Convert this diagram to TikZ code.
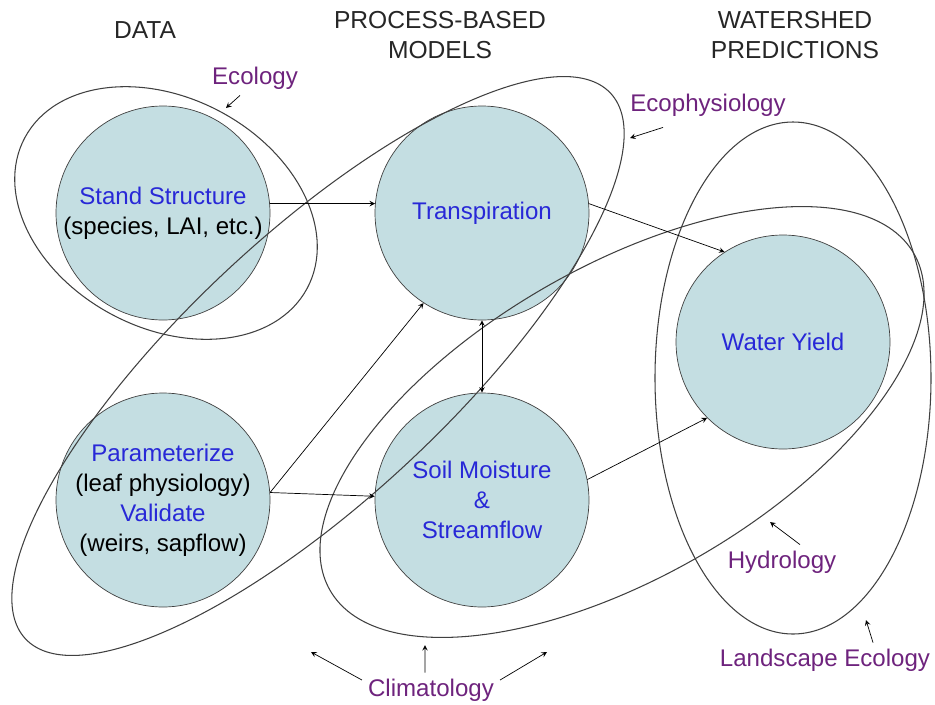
\documentclass[tikz,border=0pt]{standalone}
\usepackage{fontspec}
\setmainfont{Liberation Sans}
\usetikzlibrary{shapes.geometric, arrows}
\definecolor{cellfill}{RGB}{196,222,226}
\definecolor{txtblue}{RGB}{40,40,215}
\definecolor{fieldpurple}{RGB}{110,35,125}
\tikzstyle{circ} = [circle, minimum size=4.28cm, inner sep=0pt, align=center, draw=black!75, fill=cellfill, font=\fontsize{13.7}{17}\selectfont]
\tikzstyle{head} = [rectangle, align=center, text=black!85, font=\fontsize{14}{17.5}\selectfont]
\tikzstyle{field} = [rectangle, text=fieldpurple, font=\fontsize{13.7}{17}\selectfont]
\tikzstyle{ring} = [draw=black!75, line width=0.6pt]
\tikzstyle{arrow} = [->,>=stealth]

\begin{document}
\begin{tikzpicture}[node distance=6.38cm]
    \useasboundingbox (0,0) rectangle (18.7,-14.08);
    % circles
    \node (ss) [circ] at (3.26,-4.26) {\textcolor{txtblue}{Stand Structure}\\(species, LAI, etc.)};
    \node (tr) [circ, right of=ss] {\textcolor{txtblue}{Transpiration}};
    \node (pa) [circ, below of=ss, node distance=5.74cm] {\textcolor{txtblue}{Parameterize}\\(leaf physiology)\\\textcolor{txtblue}{Validate}\\(weirs, sapflow)};
    \node (sm) [circ, right of=pa] {\textcolor{txtblue}{Soil Moisture}\\\textcolor{txtblue}{\&}\\\textcolor{txtblue}{Streamflow}};
    \node (wy) [circ] at (15.66,-6.84) {\textcolor{txtblue}{Water Yield}};
    % headings
    \node (h1) [head] at (2.9,-0.6) {DATA};
    \node (h2) [head] at (8.8,-0.7) {PROCESS-BASED\\MODELS};
    \node (h3) [head] at (15.9,-0.7) {WATERSHED\\PREDICTIONS};
    % fields
    \draw [ring, rotate around={-28:(3.32,-4.26)}] (3.32,-4.26) ellipse [x radius=3.2, y radius=2.3];
    \draw [ring, rotate around={43:(6.36,-7.32)}] (6.36,-7.32) ellipse [x radius=8.0, y radius=2.64];
    \draw [ring, rotate around={30:(12.44,-8.44)}] (12.44,-8.44) ellipse [x radius=6.74, y radius=3.1];
    \draw [ring] (15.86,-7.56) ellipse [x radius=2.76, y radius=5.12];
    \node (eco) [field] at (5.1,-1.56) {Ecology};
    \node (ecp) [field] at (14.16,-2.1) {Ecophysiology};
    \node (hyd) [field] at (15.64,-11.24) {Hydrology};
    \node (lan) [field] at (16.5,-13.2) {Landscape Ecology};
    \node (cli) [field] at (8.62,-13.8) {Climatology};
    \coordinate (ecotip) at (4.52,-2.16);
    \coordinate (ecptip) at (12.6,-2.76);
    \coordinate (hydtip) at (15.4,-10.44);
    \coordinate (lantip) at (17.32,-12.4);
    \coordinate (clil) at (6.22,-13.04);
    \coordinate (clim) at (8.5,-12.9);
    \coordinate (clir) at (10.94,-13.04);
    % flows
    \draw [arrow] (ss.5) -- (tr.175);
    \draw [arrow] (tr.5) -- (wy.123);
    \draw [arrow] (pa.4) -- (tr.237);
    \draw [arrow] (pa.4) -- (sm.178);
    \draw [arrow] (sm.11) -- (wy.225);
    \draw [<->,>=stealth] (tr.south) -- (sm.north);
    % pointers
    \draw [arrow] ([xshift=-3mm]eco.south) -- (ecotip);
    \draw [arrow] ([xshift=-9mm,yshift=-1mm]ecp.south) -- (ecptip);
    \draw [arrow] ([xshift=3.6mm]hyd.north) -- (hydtip);
    \draw [arrow] ([xshift=9.6mm]lan.north) -- (lantip);
    \draw [arrow] ([yshift=2mm]cli.west) -- (clil);
    \draw [arrow] ([xshift=-1.2mm]cli.north) -- (clim);
    \draw [arrow] ([yshift=2mm]cli.east) -- (clir);
\end{tikzpicture}
\end{document}
